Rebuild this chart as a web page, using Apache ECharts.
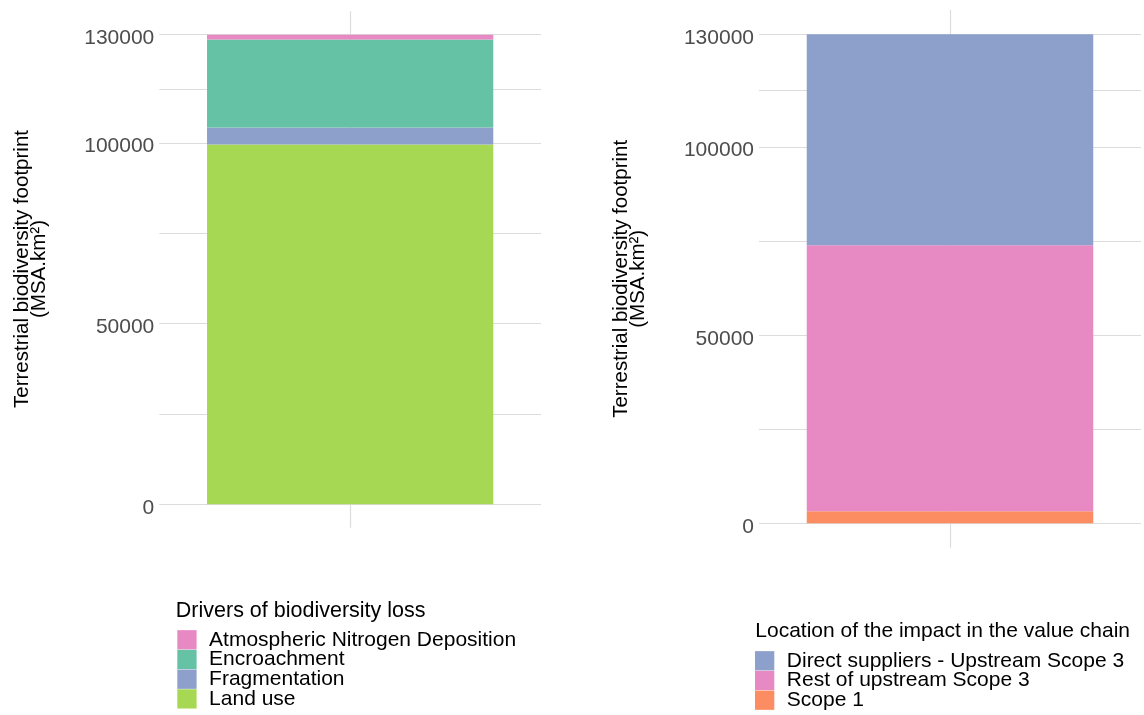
<!DOCTYPE html>
<html>
<head>
<meta charset="utf-8">
<title>Terrestrial biodiversity footprint</title>
<script src="https://cdn.jsdelivr.net/npm/echarts@6/dist/echarts.min.js"></script>
<style>
  html, body { margin: 0; padding: 0; background: #ffffff; }
  #chart { width: 1144px; height: 715px; }
</style>
</head>
<body>
<div id="chart"></div>
<script>
// Footprint split by driver of biodiversity loss (MSA.km²)
const driverNames = ['Atmospheric Nitrogen Deposition', 'Encroachment', 'Fragmentation', 'Land use'];
const driverValues = [1300, 24400, 4700, 99600];
const driverColors = ['#E78AC3', '#66C2A5', '#8DA0CB', '#A6D854'];
// stacking order, bottom to top
const driverStack = ['Land use', 'Fragmentation', 'Encroachment', 'Atmospheric Nitrogen Deposition'];

// Footprint split by location in the value chain (MSA.km²)
const locationNames = ['Direct suppliers - Upstream Scope 3', 'Rest of upstream Scope 3', 'Scope 1'];
const locationValues = [56100, 70700, 3200];
const locationColors = ['#8DA0CB', '#E78AC3', '#FC8D62'];
const locationStack = ['Scope 1', 'Rest of upstream Scope 3', 'Direct suppliers - Upstream Scope 3'];

const category = ['Total'];
const tickLabels = [0, 50000, 100000, 130000];
const gridValues = [0, 25000, 50000, 75000, 100000, 115000, 130000];
const yMin = -6500;
const yMax = 136500;

const FONT = "'Liberation Sans', Arial, sans-serif";
const GRID_COLOR = '#dcdcdc';

function yAxisFor(gridIndex) {
  return {
    type: 'value',
    gridIndex: gridIndex,
    min: yMin,
    max: yMax,
    axisLine: { show: false },
    axisTick: { show: false, customValues: gridValues },
    axisLabel: {
      customValues: tickLabels,
      formatter: function (v) { return '{t|' + v + '}'; },
      margin: 5,
      rich: {
        t: {
          fontFamily: FONT,
          fontSize: 21,
          color: '#4d4d4d',
          padding: [7, 0, 0, 0]
        }
      }
    },
    splitLine: { show: true, lineStyle: { color: GRID_COLOR, width: 1.2 } }
  };
}

function xAxisFor(gridIndex) {
  return {
    type: 'category',
    gridIndex: gridIndex,
    data: category,
    axisLine: { show: false },
    axisTick: { show: false },
    axisLabel: { show: false },
    splitLine: { show: false }
  };
}

function stackSeries(names, values, colors, order, axisIndex, stackId) {
  return order.map(function (name, i) {
    const k = names.indexOf(name);
    const s = {
      name: name,
      type: 'bar',
      stack: stackId,
      xAxisIndex: axisIndex,
      yAxisIndex: axisIndex,
      barWidth: '75%',
      itemStyle: { color: colors[k] },
      data: [values[k]],
      z: 2
    };
    if (i === 0) {
      // vertical grid line through the category
      s.markLine = {
        silent: true,
        symbol: 'none',
        z: 1,
        label: { show: false },
        lineStyle: { color: GRID_COLOR, width: 1.2, type: 'solid' },
        data: [{ xAxis: 0 }]
      };
    }
    return s;
  });
}

function legendFor(names, left, top) {
  return {
    data: names,
    orient: 'vertical',
    left: left,
    top: top,
    height: 100,
    padding: 0,
    icon: 'rect',
    itemWidth: 19.3,
    itemHeight: 19.3,
    itemGap: -1.3,
    selectedMode: false,
    textStyle: {
      fontFamily: FONT,
      fontSize: 21,
      color: '#000000',
      lineHeight: 19,
      padding: [0, 0, 0, 7.5]
    }
  };
}

function axisTitle(x, y) {
  return {
    type: 'text',
    x: x,
    y: y,
    rotation: Math.PI / 2,
    silent: true,
    style: {
      text: 'Terrestrial biodiversity footprint\n(MSA.km²)',
      fontFamily: FONT,
      fontSize: 20.5,
      lineHeight: 17,
      fill: '#000000',
      align: 'center',
      verticalAlign: 'middle'
    }
  };
}

function legendTitle(text, x, y, size) {
  return {
    type: 'text',
    x: x,
    y: y,
    silent: true,
    style: {
      text: text,
      fontFamily: FONT,
      fontSize: size,
      fill: '#000000',
      align: 'left',
      verticalAlign: 'middle'
    }
  };
}

const chart = echarts.init(document.getElementById('chart'), null, { renderer: 'canvas' });

chart.setOption({
  animation: false,
  backgroundColor: '#ffffff',
  grid: [
    { left: 159.3, top: 11.2, width: 381.7, height: 516.6, containLabel: false },
    { left: 759, top: 9.85, width: 382, height: 537.9, containLabel: false }
  ],
  xAxis: [xAxisFor(0), xAxisFor(1)],
  yAxis: [yAxisFor(0), yAxisFor(1)],
  legend: [
    legendFor(driverNames, 177.3, 629.3),
    legendFor(locationNames, 755, 650.3)
  ],
  graphic: [
    axisTitle(30.5, 269),
    axisTitle(630, 278.8),
    legendTitle('Drivers of biodiversity loss', 175.8, 611.5, 21.5),
    legendTitle('Location of the impact in the value chain', 755.3, 631, 21)
  ],
  series: stackSeries(driverNames, driverValues, driverColors, driverStack, 0, 'drivers')
    .concat(stackSeries(locationNames, locationValues, locationColors, locationStack, 1, 'location'))
});
</script>
</body>
</html>
